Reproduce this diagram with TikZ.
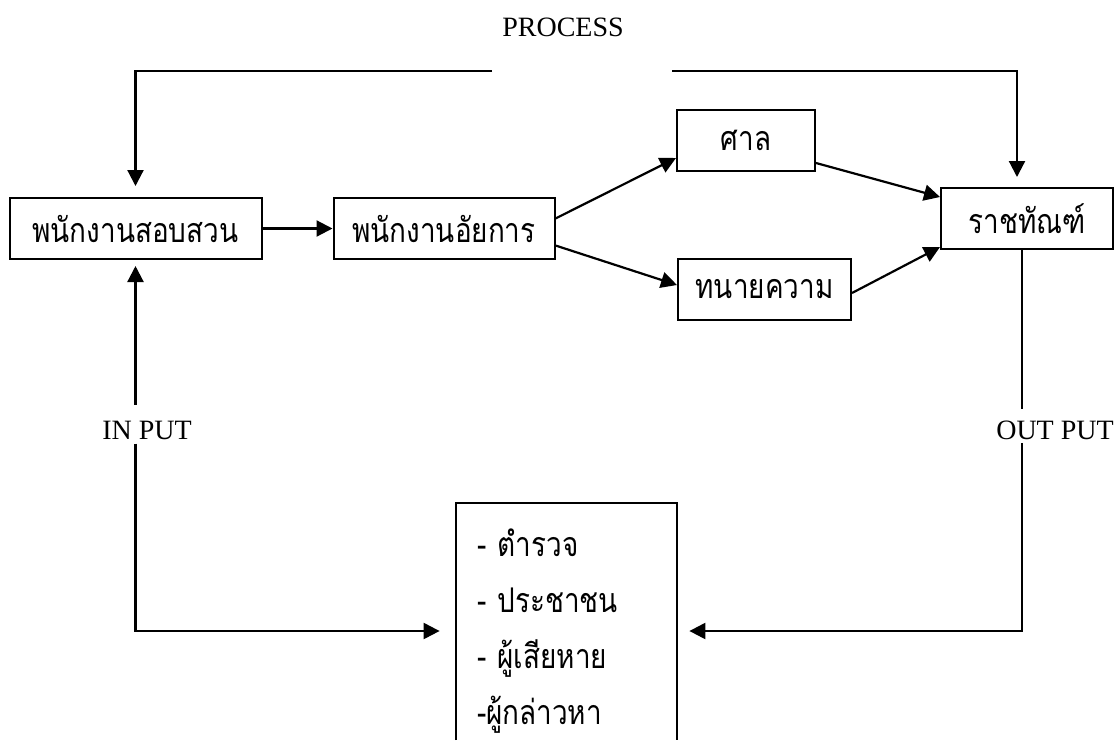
\documentclass[tikz,border=0pt]{standalone}
\usepackage{fontspec}
\setmainfont{Liberation Serif}
\newfontfamily\thaifont[Script=Thai,FakeStretch=0.82]{Loma}
\usetikzlibrary{positioning,arrows.meta}

\begin{document}
\begin{tikzpicture}[x=0.5pt, y=-0.5pt, node distance=35pt,
    box/.style={draw, rectangle, line width=1pt, minimum height=30.5pt, inner sep=0pt, font=\thaifont\fontsize{17}{19}\selectfont},
    arr/.style={-{Triangle[length=8pt,width=8pt]}, line width=1.1pt},
    lab/.style={font=\fontsize{14}{16}\selectfont, inner sep=0pt}]
    \useasboundingbox (0,0) rectangle (1114,740);

    \node[box, minimum width=126pt] (INV) at (135.5,228.5) {พนักงานสอบสวน};
    \node[box, minimum width=110.5pt, right=of INV] (PROS) {พนักงานอัยการ};
    \node[box, minimum width=69pt] (COURT) at (746,140.5) {ศาล};
    \node[box, minimum width=86.5pt] (LAWYER) at (764.5,289.5) {ทนายความ};
    \node[box, minimum width=86pt] (PRISON) at (1027,218.5) {ราชทัณฑ์};
    \node[minimum width=110.5pt, minimum height=128pt, text width=89.5pt, inner xsep=10.5pt, align=left, font=\thaifont\fontsize{17}{28}\selectfont] (LIST) at (566.5,631) {- ตำรวจ\\- ประชาชน\\- ผู้เสียหาย\\-ผู้กล่าวหา};

    \node[lab] (PROC) at (563,27) {PROCESS};
    \node[lab] (INlab) at (147,430) {IN PUT};
    \node[lab] (OUTlab) at (1055,430) {OUT PUT};

    \coordinate (procL) at (492,71);
    \coordinate (procR) at (672,71);
    \coordinate (bot) at (0,740);
    \coordinate (outx) at ([xshift=-2.5pt]PRISON.south);

    % list box runs off the bottom edge
    \draw[line width=1pt] (LIST.west |- bot) -- (LIST.north west) -- (LIST.north east) -- (LIST.east |- bot);

    \draw[arr, shorten >=5.5pt] (procL) -| (INV);
    \draw[arr, shorten >=5pt] (procR) -| ([xshift=-5pt]PRISON.north);
    \draw[arr] (INV) -- (PROS);
    \draw[arr] ([yshift=5pt]PROS.east) -- ([yshift=-8.75pt]COURT.west);
    \draw[arr] ([yshift=-8.5pt]PROS.east) -- ([yshift=2.25pt]LAWYER.west);
    \draw[arr] ([yshift=-11.25pt]COURT.east) -- ([yshift=10.75pt]PRISON.west);
    \draw[arr] ([yshift=-1.75pt]LAWYER.east) -- ([yshift=-14.25pt]PRISON.west);

    \draw[arr, shorten >=3pt] ([yshift=7.8pt]INlab.north -| INV.south) -- (INV.south);
    \draw[arr, shorten >=8pt] ([yshift=-2pt]INlab.south -| INV.south) |- (LIST.west);
    \draw[line width=1.1pt] (outx) -- ([yshift=5.8pt]OUTlab.north -| outx);
    \draw[arr, shorten >=6pt] ([yshift=-1.5pt]OUTlab.south -| outx) |- (LIST.east); % back to the list
\end{tikzpicture}
\end{document}
